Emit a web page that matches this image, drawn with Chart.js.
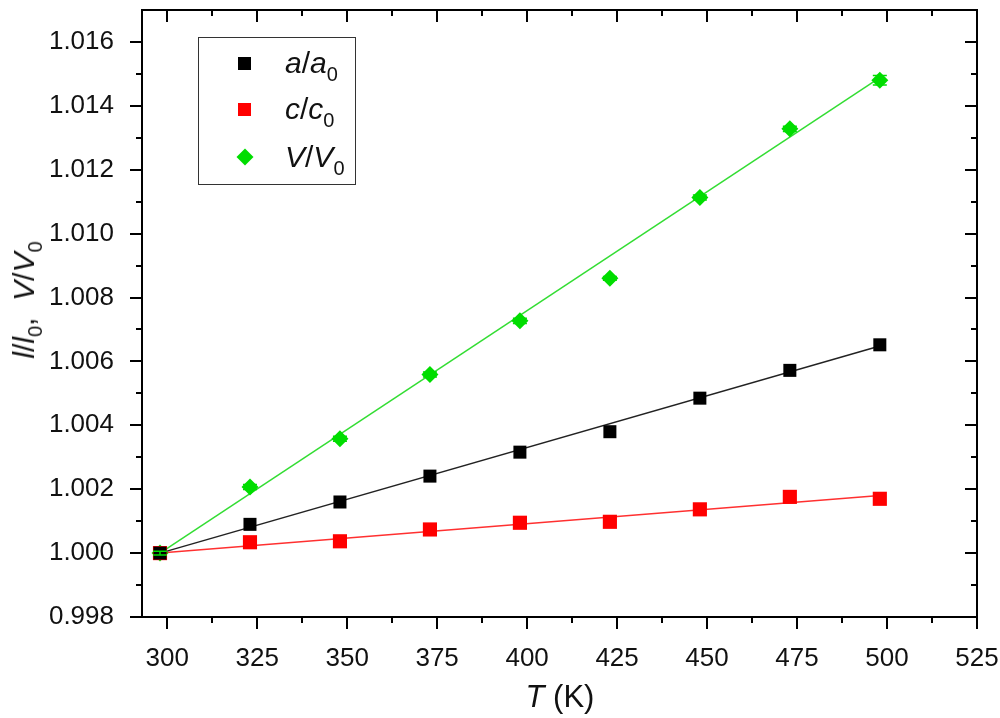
<!DOCTYPE html>
<html>
<head>
<meta charset="utf-8">
<script src="https://cdn.jsdelivr.net/npm/chart.js@4.4.0/dist/chart.umd.min.js"></script>
<style>
  body { margin: 0; background: #fff; }
  #wrap { position: relative; width: 1000px; height: 718px; font-family: "Liberation Sans", Arial, sans-serif; color: #111; }
  #legend { position: absolute; left: 198px; top: 37px; width: 156px; height: 146px; border: 1.5px solid #333; }
  .row { position: absolute; left: 0; height: 34px; font-size: 30px; line-height: 34px; }
  .mk { position: absolute; left: 39px; top: 11px; width: 13px; height: 13px; }
  .lbl { position: absolute; left: 86px; top: 0; white-space: nowrap; }
  i { font-style: italic; }
  sub { font-size: 20px; vertical-align: -8px; line-height: 0; }
  #ytitle { position: absolute; left: 24px; top: 300px; transform: translate(-50%, -50%) rotate(-90deg); font-size: 30px; white-space: nowrap; }
  #xtitle { position: absolute; left: 560px; top: 697px; transform: translate(-50%, -50%); font-size: 31px; white-space: nowrap; }
</style>
</head>
<body>
<div id="wrap">
  <canvas id="chart" width="1000" height="718"></canvas>
  <div id="legend">
    <div class="row" style="top:8px"><div class="mk" style="background:#000"></div><span class="lbl"><i>a</i>/<i>a</i><sub>0</sub></span></div>
    <div class="row" style="top:54px"><div class="mk" style="background:#ff0000"></div><span class="lbl"><i>c</i>/<i>c</i><sub>0</sub></span></div>
    <div class="row" style="top:102px"><div class="mk" style="background:#00dd00;transform:rotate(45deg);width:12px;height:12px;left:40px;top:11px"></div><span class="lbl"><i>V</i>/<i>V</i><sub>0</sub></span></div>
  </div>
  <div id="ytitle"><i>l</i>/<i>l</i><sub>0</sub>,&nbsp; <i>V</i>/<i>V</i><sub>0</sub></div>
  <div id="xtitle"><i>T</i> (K)</div>
</div>
<script>
// data
const temps = [298, 323, 348, 373, 398, 423, 448, 473, 498];
const aRatio = [1.0000, 1.00090, 1.00160, 1.00241, 1.00316, 1.00380, 1.00485, 1.00572, 1.00652];
const cRatio = [1.0000, 1.00034, 1.00037, 1.00074, 1.00095, 1.00098, 1.00137, 1.00176, 1.00170];
const vRatio = [1.0000, 1.00207, 1.00358, 1.00559, 1.00727, 1.00860, 1.01113, 1.01328, 1.01480];
const vErr = [0.00006, 0.00008, 0.00008, 0.00008, 0.00008, 0.00006, 0.00008, 0.00008, 0.00015];
// linear fit end points
const fitT = [298, 498];
const aFit = [1.0000, 1.00648];
const cFit = [1.0000, 1.00180];
const vFit = [1.0000, 1.01488];
const xTicks = [300, 325, 350, 375, 400, 425, 450, 475, 500, 525];
const yTicks = [0.998, 1.000, 1.002, 1.004, 1.006, 1.008, 1.010, 1.012, 1.014, 1.016];

const pts = (xs, ys) => xs.map((x, i) => ({ x: x, y: ys[i] }));

// error bars + frame with ticks
const extras = {
  id: 'extras',
  afterDatasetsDraw(chart) {
    const ctx = chart.ctx;
    const x = chart.scales.x, y = chart.scales.y;
    ctx.save();
    ctx.strokeStyle = '#00dd00';
    ctx.lineWidth = 1.5;
    temps.forEach((t, i) => {
      const px = x.getPixelForValue(t);
      const y1 = y.getPixelForValue(vRatio[i] - vErr[i]);
      const y2 = y.getPixelForValue(vRatio[i] + vErr[i]);
      ctx.beginPath();
      ctx.moveTo(px, y1); ctx.lineTo(px, y2);
      ctx.moveTo(px - 7, y1); ctx.lineTo(px + 7, y1);
      ctx.moveTo(px - 7, y2); ctx.lineTo(px + 7, y2);
      ctx.stroke();
    });
    ctx.restore();
  },
  afterDraw(chart) {
    const ctx = chart.ctx;
    const a = chart.chartArea;
    const x = chart.scales.x, y = chart.scales.y;
    ctx.save();
    ctx.strokeStyle = '#000';
    ctx.lineWidth = 2;
    ctx.strokeRect(a.left, a.top, a.right - a.left, a.bottom - a.top);
    ctx.beginPath();
    xTicks.forEach((t, i) => {
      const px = Math.round(x.getPixelForValue(t));
      ctx.moveTo(px, a.bottom); ctx.lineTo(px, a.bottom + 12);
      ctx.moveTo(px, a.top); ctx.lineTo(px, a.top + 12);
      if (i < xTicks.length - 1) {
        const pm = Math.round(x.getPixelForValue(t + 12.5));
        ctx.moveTo(pm, a.bottom); ctx.lineTo(pm, a.bottom + 6);
        ctx.moveTo(pm, a.top); ctx.lineTo(pm, a.top + 6);
      }
    });
    yTicks.forEach((t, i) => {
      const py = Math.round(y.getPixelForValue(t));
      ctx.moveTo(a.left, py); ctx.lineTo(a.left - 12, py);
      ctx.moveTo(a.right, py); ctx.lineTo(a.right - 12, py);
      if (i < yTicks.length - 1) {
        const pm = Math.round(y.getPixelForValue(t + 0.001));
        ctx.moveTo(a.left, pm); ctx.lineTo(a.left - 6, pm);
        ctx.moveTo(a.right, pm); ctx.lineTo(a.right - 6, pm);
      }
    });
    ctx.stroke();
    ctx.restore();
  }
};

new Chart(document.getElementById('chart'), {
  type: 'scatter',
  data: {
    datasets: [
      { label: 'a/a0', data: pts(temps, aRatio), backgroundColor: '#000', borderColor: '#000',
        pointStyle: 'rect', pointRadius: 9.2, borderWidth: 0, order: 1 },
      { label: 'c/c0', data: pts(temps, cRatio), backgroundColor: '#ff0000', borderColor: '#ff0000',
        pointStyle: 'rect', pointRadius: 10, borderWidth: 0, order: 1 },
      { label: 'V/V0', data: pts(temps, vRatio), backgroundColor: '#00dd00', borderColor: '#00dd00',
        pointStyle: 'rectRot', pointRadius: 8.5, borderWidth: 0, order: 1 },
      { type: 'line', data: pts(fitT, aFit), borderColor: '#222', borderWidth: 1.5, pointRadius: 0, order: 2 },
      { type: 'line', data: pts(fitT, cFit), borderColor: '#ff3030', borderWidth: 1.5, pointRadius: 0, order: 2 },
      { type: 'line', data: pts(fitT, vFit), borderColor: '#33dd33', borderWidth: 1.5, pointRadius: 0, order: 2 }
    ]
  },
  options: {
    responsive: false,
    animation: false,
    layout: { padding: { left: 0, right: 23, top: 4, bottom: 0 } },
    plugins: { legend: { display: false }, tooltip: { enabled: false } },
    scales: {
      x: {
        type: 'linear', min: 293, max: 525,
        grid: { display: false }, border: { display: false },
        afterBuildTicks: s => { s.ticks = xTicks.map(v => ({ value: v })); },
        afterFit: s => { s.height = 101; s.paddingLeft = 0; s.paddingRight = 0; },
        ticks: { font: { family: 'Liberation Sans', size: 26 }, color: '#111', padding: 18, maxRotation: 0 }
      },
      y: {
        min: 0.998, max: 1.017,
        grid: { display: false }, border: { display: false },
        afterBuildTicks: s => { s.ticks = yTicks.map(v => ({ value: v })); },
        afterFit: s => { s.width = 142; s.paddingTop = 0; s.paddingBottom = 0; },
        ticks: { font: { family: 'Liberation Sans', size: 26 }, color: '#111', padding: 20,
          callback: v => v.toFixed(3) }
      }
    }
  },
  plugins: [extras]
});
</script>
</body>
</html>
